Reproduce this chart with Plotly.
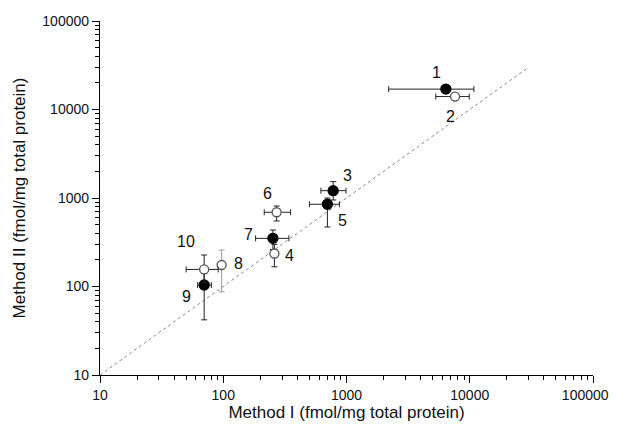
import math
import plotly.graph_objects as go

# ---- data ----
labels = ["1", "3", "5", "7", "9", "2", "4", "6", "8", "10"]
filled = [True, True, True, True, True, False, False, False, False, False]
method1 = [6400, 780, 700, 253, 70, 7600, 260, 271, 97, 70]
method2 = [17000, 1210, 850, 350, 104, 14000, 236, 690, 175, 156]
m1_low = [2200, 620, 500, 183, 62, 5300, 245, 215, 91, 50]
m1_high = [10800, 990, 875, 341, 80, 9900, 275, 352, 103, 91]
m2_low = [15800, 950, 470, 262, 42, 12900, 167, 550, 87, 110]
m2_high = [18300, 1530, 1000, 435, 140, 15200, 300, 812, 258, 227]
identity_ends = [10, 30000]
x_ticks = [10, 100, 1000, 10000, 100000]
y_ticks = [10, 100, 1000, 10000, 100000]

# label offsets in pixels (dx, dy up)
label_offsets = {
    "1": (-9, 17), "2": (-5, -20), "3": (14, 15), "5": (15, -16),
    "6": (-9, 19), "7": (-24, 4), "4": (15, -2), "8": (17, 1),
    "10": (-18, 28), "9": (-18, -12),
}
bar_colour = {"8": "#9a9a9a"}

FONT = "Liberation Sans, Arial, sans-serif"

minor_vals = [m * 10 ** d for d in range(1, 5) for m in range(2, 10)]

fig = go.Figure()

fig.add_trace(go.Scatter(
    x=identity_ends, y=identity_ends, mode="lines",
    line=dict(color="#8a8a8a", width=1, dash="dot"),
    hoverinfo="skip", showlegend=False,
))

for i, lab in enumerate(labels):
    col = bar_colour.get(lab, "#222222")
    fig.add_trace(go.Scatter(
        x=[method1[i]], y=[method2[i]], mode="markers",
        marker=dict(
            size=10 if filled[i] else 9,
            color="#000000" if filled[i] else "#ffffff",
            line=dict(color="#000000" if filled[i] else "#555555", width=1.3),
        ),
        error_x=dict(type="data", symmetric=False,
                     array=[m1_high[i] - method1[i]],
                     arrayminus=[method1[i] - m1_low[i]],
                     color=col, thickness=1, width=3),
        error_y=dict(type="data", symmetric=False,
                     array=[m2_high[i] - method2[i]],
                     arrayminus=[method2[i] - m2_low[i]],
                     color=col, thickness=1, width=3),
        showlegend=False,
    ))
    dx, dy = label_offsets[lab]
    fig.add_annotation(
        x=math.log10(method1[i]), y=math.log10(method2[i]),
        xref="x", yref="y", text=lab, showarrow=False,
        xshift=dx, yshift=dy,
        font=dict(family=FONT, size=16, color="#111111"),
    )

axis_common = dict(
    type="log", showgrid=False, zeroline=False, automargin=False,
    showline=True, linecolor="#000000", linewidth=1.3,
    ticks="outside", ticklen=7, tickwidth=1.2, tickcolor="#000000",
    tickfont=dict(family=FONT, size=14, color="#111111"),
    ticklabeloverflow="allow",
    minor=dict(ticks="outside", ticklen=4, tickwidth=1, tickcolor="#000000",
               tickmode="array", tickvals=minor_vals, showgrid=False),
    mirror=False,
)

# last x label padded on the right so it stays inside the visible window
x_ticktext = [str(v) for v in x_ticks]
x_ticktext[-1] = x_ticktext[-1] + "\u00a0" * 4

fig.update_xaxes(
    **axis_common, range=[1, 5],
    tickvals=x_ticks, ticktext=x_ticktext,
    title=dict(text="Method I (fmol/mg total protein)",
               font=dict(family=FONT, size=17, color="#111111"), standoff=4),
)
fig.update_yaxes(
    **axis_common, range=[1, 5],
    tickvals=y_ticks, ticktext=[str(v) for v in y_ticks],
    title=dict(text="Method II (fmol/mg total protein)",
               font=dict(family=FONT, size=17, color="#111111"), standoff=12),
)

# the page adds an 8px body margin, so the figure is made smaller
fig.update_layout(
    width=610, height=415,
    margin=dict(l=92, r=25, t=13, b=48),
    paper_bgcolor="#ffffff", plot_bgcolor="#ffffff",
)

fig.write_html("out.html")
